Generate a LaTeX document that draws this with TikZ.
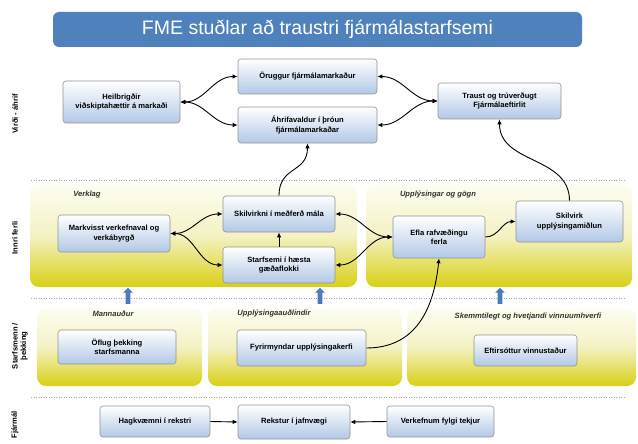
\documentclass[tikz,border=0pt]{standalone}
\usepackage{fontspec}
\setmainfont{Liberation Sans}
\usepackage{xcolor}
\usepackage{tikz}
\usetikzlibrary{arrows.meta,shapes.arrows}

\definecolor{titleblue}{RGB}{79,129,189}
\definecolor{boxblue}{RGB}{178,200,230}
\definecolor{panelcream}{RGB}{253,253,242}
\definecolor{panelmid}{RGB}{244,242,196}
\definecolor{panelyellow}{RGB}{216,208,20}
\definecolor{arrowblue}{RGB}{72,122,192}

\begin{document}
\begin{tikzpicture}[x=1pt,y=-1pt,line width=0.9pt,
  >={Latex[length=5pt,width=4.5pt]},
  goal/.style={draw=gray!85, line width=0.6pt, rounded corners=3pt,
    top color=white, bottom color=boxblue, align=center, inner sep=1pt,
    font=\bfseries\fontsize{7.6}{9.2}\selectfont},
  panel/.style={rounded corners=9pt, top color=panelcream,
    bottom color=panelyellow, middle color=panelmid},
  paneltitle/.style={font=\bfseries\itshape\fontsize{7.6}{9}\selectfont,
    text=black!80},
  sidelabel/.style={rotate=90, align=center,
    font=\bfseries\fontsize{7.6}{8.6}\selectfont},
  divider/.style={gray!70, line width=0.5pt, dotted},
  uparrow/.style={single arrow, shape border rotate=90, fill=arrowblue,
    inner sep=2pt, single arrow head extend=2.5pt, minimum height=16pt}]
  \useasboundingbox (0,0) rectangle (638,444);

  % title and bands
  \node[fill=titleblue, rounded corners=6pt, minimum width=529pt,
    minimum height=35pt, text=white, font=\fontsize{19.5}{22}\selectfont]
    (title) at (317.5,29.5) {FME stuðlar að traustri fjármálastarfsemi};

  \path[panel] (30,184) rectangle (357,287);
  \path[panel] (366,184) rectangle (632,287);
  \path[panel] (37,308) rectangle (202,386);
  \path[panel] (208,308) rectangle (402,386);
  \path[panel] (407,308) rectangle (636,386);

  \coordinate (d1a) at (31,180);  \coordinate (d1b) at (626,180);
  \coordinate (d2a) at (31,298);  \coordinate (d2b) at (626,298);
  \coordinate (d3a) at (31,397);  \coordinate (d3b) at (626,397);
  \draw[divider] (d1a) -- (d1b);
  \draw[divider] (d2a) -- (d2b);
  \draw[divider] (d3a) -- (d3b);

  \node[sidelabel] (lvirdi) at (15,114) {Virði - áhrif};
  \node[sidelabel] (linnri) at (15,238) {Innri ferli};
  \node[sidelabel] (lstarf) at (20,346) {Starfsmenn /\\ þekking};
  \node[sidelabel] (lfjar) at (15,425) {Fjármál};

  \node[paneltitle] (tverk) at (87,195) {Verklag};
  \node[paneltitle] (tuppl) at (438,195) {Upplýsingar og gögn};
  \node[paneltitle] (tmann) at (113,314) {Mannauður};
  \node[paneltitle] (tauds) at (274,314) {Upplýsingaauðlindir};
  \node[paneltitle] (tskem) at (528,317) {Skemmtilegt og hvetjandi vinnuumhverfi};

  % goals
  \node[goal, minimum width=117pt, minimum height=42pt] (heil) at (121.5,102)
    {Heilbrigðir\\viðskiptahættir á markaði};
  \node[goal, minimum width=139pt, minimum height=35pt] (orug) at (307.5,76.5)
    {Öruggur fjármálamarkaður};
  \node[goal, minimum width=139pt, minimum height=36pt] (ahri) at (307.5,125)
    {Áhrifavaldur í þróun\\fjármálamarkaðar};
  \node[goal, minimum width=123pt, minimum height=36pt] (traust) at (499.5,101)
    {Traust og trúverðugt\\Fjármálaeftirlit};

  \node[goal, minimum width=112pt, minimum height=37pt] (markv) at (114,233.5)
    {Markvisst verkefnaval og\\verkábyrgð};
  \node[goal, minimum width=112pt, minimum height=36pt] (skilv) at (279,214)
    {Skilvirkni í meðferð mála};
  \node[goal, minimum width=112pt, minimum height=36pt] (starf) at (279,265)
    {Starfsemi í hæsta\\gæðaflokki};
  \node[goal, minimum width=92pt, minimum height=42pt] (efla) at (439,237)
    {Efla rafvæðingu\\ferla};
  \node[goal, minimum width=107pt, minimum height=41pt] (skilu) at (569.5,221.5)
    {Skilvirk\\upplýsingamiðlun};

  \node[goal, minimum width=118pt, minimum height=34pt] (oflug) at (117,347)
    {Öflug þekking\\starfsmanna};
  \node[goal, minimum width=129pt, minimum height=36pt] (fyrir) at (301.5,348)
    {Fyrirmyndar upplýsingakerfi};
  \node[goal, minimum width=103pt, minimum height=31pt] (eftir) at (525.5,350.5)
    {Eftirsóttur vinnustaður};

  \node[goal, minimum width=110pt, minimum height=31pt] (hagk) at (155,421.5)
    {Hagkvæmni í rekstri};
  \node[goal, minimum width=112pt, minimum height=34pt] (rekst) at (294,422)
    {Rekstur í jafnvægi};
  \node[goal, minimum width=107pt, minimum height=31pt] (verk) at (440.5,421.5)
    {Verkefnum fylgi tekjur};

  \node[uparrow] (ua1) at (128,297) {};
  \node[uparrow] (ua2) at (320,297) {};
  \node[uparrow] (ua3) at (500,297) {};

  % links
  \draw[<->] (heil.east) to[out=0,in=180] (orug.west);
  \draw[<->] (heil.east) to[out=0,in=180] (ahri.west);
  \draw[<->] (orug.east) to[out=0,in=180] (traust.west);
  \draw[<->] (ahri.east) to[out=0,in=180] (traust.west);
  \draw[->] (skilv.north) .. controls +(0,-30) and +(0,30) .. (ahri.south);
  \draw[->] (skilu.north) .. controls +(0,-45) and +(0,45) .. (traust.south);

  \draw[<->] (markv.east) to[out=0,in=180] (skilv.west);
  \draw[<->] (markv.east) to[out=0,in=180] (starf.west);
  \draw[->] (starf.north) -- (skilv.south);
  \draw[<->] (skilv.east) to[out=0,in=180] (efla.west);
  \draw[<->] (starf.east) to[out=0,in=180] (efla.west);
  \draw[->] (efla.east) to[out=0,in=180] (skilu.west);
  \draw[->] (fyrir.east) .. controls +(50,0) and +(-5,50) .. (efla.south);

  \draw[->] (hagk.east) -- (rekst.west);
  \draw[->] (verk.west) -- (rekst.east);
\end{tikzpicture}
\end{document}
